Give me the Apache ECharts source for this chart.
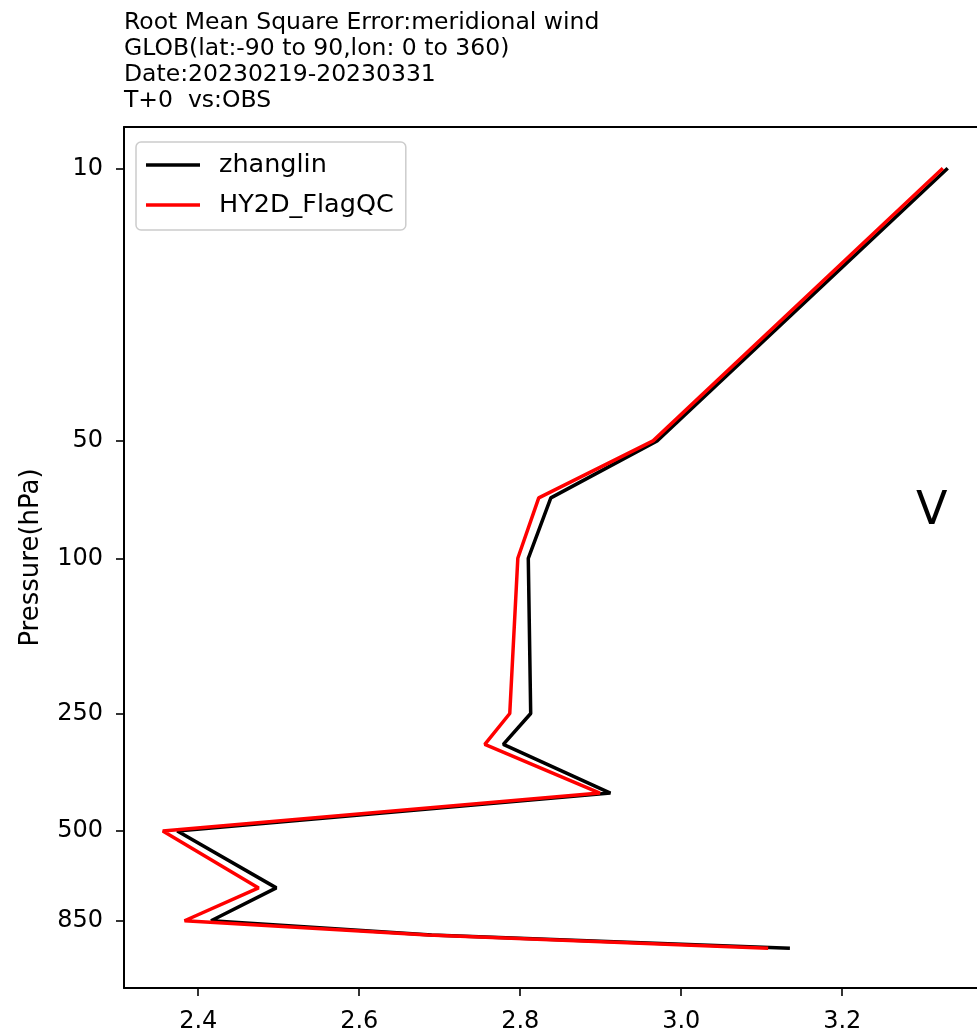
<!DOCTYPE html>
<html>
<head>
    <meta charset="UTF-8">
    <title>RMSE meridional wind</title>
    <script src="https://cdn.jsdelivr.net/npm/echarts@6/dist/echarts.min.js"></script>
    <style>
        html, body {
            margin: 0;
            padding: 0;
            background: #fff;
        }
        #chart {
            width: 977px;
            height: 1030px;
        }
    </style>
</head>
<body>
    <div id="chart"></div>

    <script>
        // pressure levels (hPa) and RMSE values
        var levels = [10, 50, 70, 100, 250, 300, 400, 500, 700, 850, 925, 1000];
        var zhanglin = [3.331, 2.970, 2.838, 2.810, 2.813, 2.779, 2.912, 2.374, 2.497, 2.416, 2.690, 3.135];
        var hy2dFlagQC = [3.325, 2.965, 2.823, 2.797, 2.787, 2.756, 2.899, 2.356, 2.475, 2.383, 2.685, 3.108];
        var pressureTicks = [10, 50, 100, 250, 500, 850];
        var rmseTicks = [2.4, 2.6, 2.8, 3.0, 3.2];
        var titleLines = [
            'Root Mean Square Error:meridional wind',
            'GLOB(lat:-90 to 90,lon: 0 to 360)',
            'Date:20230219-20230331',
            'T+0  vs:OBS'
        ];

        var font = 'DejaVu Sans';
        var xMin = 2.3078, xMax = 3.3674;   // plot is cut at the right edge of the image

        // y axis is log10(pressure), inverted so the surface is at the bottom
        function toLog(p) { return Math.log10(p); }
        function pairs(values) {
            return values.map(function(v, i) { return [v, toLog(levels[i])]; });
        }

        var myChart = echarts.init(document.getElementById('chart'));

        var spine = { show: true, onZero: false, lineStyle: { color: '#000', width: 2 } };

        var option = {
            animation: false,
            title: {
                text: titleLines.join('\n'),
                left: 119,
                top: 5,
                textStyle: { fontFamily: font, fontSize: 23.5, fontWeight: 'normal', color: '#000', lineHeight: 26 }
            },
            legend: {
                orient: 'vertical',
                left: 136,
                top: 142,
                padding: [9, 12, 11, 10],
                itemWidth: 54,
                itemHeight: 3.5,
                itemGap: 12,
                borderColor: '#cccccc',
                borderWidth: 1.5,
                borderRadius: 5,
                backgroundColor: '#fff',
                textStyle: { fontFamily: font, fontSize: 25.5, color: '#000', lineHeight: 28, padding: [0, 0, 0, 14] },
                data: [
                    { name: 'zhanglin', icon: 'rect' },
                    { name: 'HY2D_FlagQC', icon: 'rect' }
                ]
            },
            grid: {
                left: 124,
                top: 127,
                right: 0,
                height: 861,
                outerBoundsMode: 'none'   // x labels are partly cut off at the bottom, keep the grid as is
            },
            xAxis: [
                {
                    type: 'value',
                    min: xMin,
                    max: xMax,
                    axisLine: spine,
                    splitLine: { show: false },
                    axisTick: { show: true, length: 8, lineStyle: { color: '#000', width: 1.6 }, customValues: rmseTicks },
                    axisLabel: {
                        customValues: rmseTicks,
                        margin: 22,
                        fontFamily: font, fontSize: 24, color: '#000',
                        formatter: function(v) { return v.toFixed(1); }
                    }
                },
                {
                    // top frame line only
                    type: 'value',
                    position: 'top',
                    min: xMin,
                    max: xMax,
                    axisLine: spine,
                    axisTick: { show: false },
                    axisLabel: { show: false },
                    splitLine: { show: false }
                }
            ],
            yAxis: {
                type: 'value',
                inverse: true,
                min: 0.8941,
                max: 3.1018,
                name: 'Pressure(hPa)',
                nameLocation: 'middle',
                nameRotate: 90,
                nameGap: 80,
                nameTextStyle: { fontFamily: font, fontSize: 26, color: '#000' },
                axisLine: spine,
                splitLine: { show: false },
                axisTick: { show: true, length: 8, lineStyle: { color: '#000', width: 1.6 }, customValues: pressureTicks.map(toLog) },
                axisLabel: {
                    customValues: pressureTicks.map(toLog),
                    margin: 21,
                    fontFamily: font, fontSize: 24, color: '#000',
                    formatter: function(v) { return String(Math.round(Math.pow(10, v))); }
                }
            },
            graphic: [{
                type: 'text',
                left: 916,
                top: 489,
                style: { text: 'V', fontFamily: font, fontSize: 46, fill: '#000' }
            }],
            series: [
                {
                    name: 'zhanglin',
                    type: 'line',
                    data: pairs(zhanglin),
                    symbol: 'none',
                    lineStyle: { color: '#000', width: 3.5 },
                    itemStyle: { color: '#000' }
                },
                {
                    name: 'HY2D_FlagQC',
                    type: 'line',
                    data: pairs(hy2dFlagQC),
                    symbol: 'none',
                    lineStyle: { color: '#ff0000', width: 3.5 },
                    itemStyle: { color: '#ff0000' }
                }
            ]
        };

        myChart.setOption(option);
    </script>
</body>
</html>
